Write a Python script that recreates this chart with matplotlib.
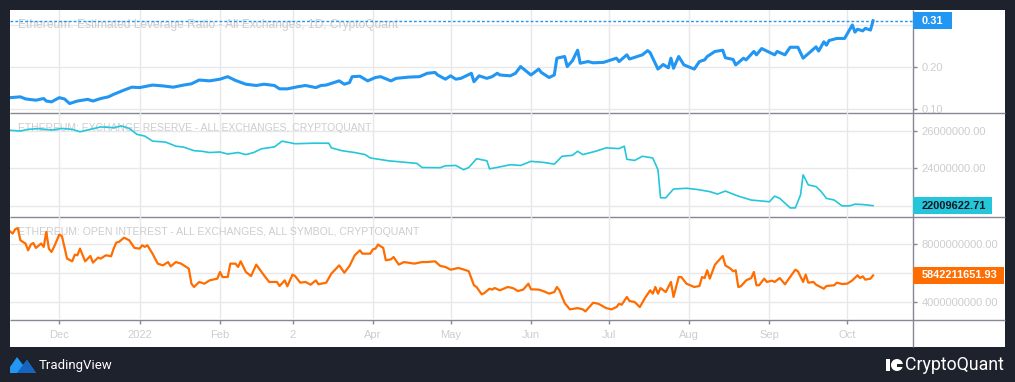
import numpy as np
import pandas as pd
import matplotlib
matplotlib.use("Agg")
import matplotlib.pyplot as plt
import matplotlib.transforms as mtransforms
from matplotlib.patches import Rectangle, Polygon, Ellipse

plt.rcParams['font.family'] = ['Liberation Sans', 'DejaVu Sans']

# ---------------- data ----------------
START = "2021-11-12"

lev_days = [0, 4, 6, 10, 13, 14, 16, 19, 21, 23, 26, 30, 32, 35, 38, 40, 44, 47, 50, 55,
            59, 63, 67, 70, 73, 77, 81, 84, 87, 91, 95, 98, 102, 104, 107, 111, 114, 118, 120, 122,
            124, 127, 129, 131, 132, 135, 138, 141, 143, 147, 149, 154, 158, 161, 164, 165, 168, 170, 172,
            174, 178, 179, 181, 184, 186, 188, 189, 193, 195, 197, 201, 204, 205, 208, 210, 211, 214, 215, 217,
            219, 220, 223, 225, 229, 234, 235, 238, 239, 242, 244, 246, 247, 250, 252, 254, 255, 256, 258, 260,
            264, 266, 268, 269, 272, 275, 276, 279, 280, 283, 284, 287, 288, 290, 295, 296, 299, 301, 304, 306,
            311, 312, 314, 315, 316, 319, 322, 325, 326, 327, 329, 330, 332, 333]
lev_vals = [0.127, 0.129, 0.124, 0.121, 0.125, 0.119, 0.117, 0.127, 0.124, 0.113,
            0.119, 0.123, 0.119, 0.125, 0.129, 0.135, 0.145, 0.152, 0.151, 0.157,
            0.155, 0.152, 0.157, 0.160, 0.169, 0.167, 0.171, 0.177, 0.168, 0.159,
            0.156, 0.159, 0.156, 0.148, 0.148, 0.153, 0.156, 0.151, 0.156, 0.157,
            0.161, 0.167, 0.159, 0.163, 0.177, 0.178, 0.167, 0.175, 0.177, 0.167,
            0.173, 0.176, 0.177, 0.185, 0.187, 0.181, 0.171, 0.179, 0.171,
            0.173, 0.185, 0.165, 0.179, 0.173, 0.177, 0.185, 0.181, 0.179, 0.185,
            0.201, 0.181, 0.195, 0.187, 0.175, 0.181, 0.221, 0.225, 0.201, 0.215,
            0.240, 0.209, 0.213, 0.210, 0.211, 0.221, 0.213, 0.229, 0.219, 0.225,
            0.229, 0.239, 0.234, 0.195, 0.206, 0.198, 0.221, 0.197, 0.225, 0.205,
            0.195, 0.213, 0.217, 0.225, 0.237, 0.240, 0.222, 0.218, 0.205, 0.221,
            0.217, 0.237, 0.229, 0.244, 0.229, 0.237, 0.229, 0.247, 0.247, 0.221,
            0.248, 0.238, 0.260, 0.252, 0.263, 0.268, 0.268, 0.300, 0.283, 0.290,
            0.286, 0.292, 0.288, 0.31]

res_days = [0, 4, 7, 11, 16, 20, 24, 27, 31, 35, 40, 43, 46, 49, 52, 55, 60, 64, 67, 71,
            74, 77, 81, 84, 88, 91, 94, 97, 102, 105, 110, 117, 123, 124, 128, 133, 137, 139, 146, 153,
            157, 159, 166, 168, 172, 175, 177, 180, 184, 185, 190, 193, 197, 201, 206, 210, 213, 217, 219, 221,
            226, 230, 235, 237, 238, 241, 244, 248, 250, 251, 253, 256, 261, 265, 270, 273, 276, 281, 286, 293,
            295, 297, 301, 303, 305, 306, 308, 311, 313, 315, 318, 321, 324, 326, 329, 333]
res_vals_m = [26.04, 26.0, 26.09, 26.13, 26.05, 26.14, 26.09, 25.96, 26.09, 26.22,
              26.18, 26.27, 26.14, 25.82, 25.73, 25.46, 25.41, 25.19, 25.14, 24.95,
              24.92, 24.85, 24.88, 24.77, 24.85, 24.74, 24.85, 25.05, 25.15, 25.46,
              25.32, 25.35, 25.35, 25.10, 24.95, 24.85, 24.74, 24.56, 24.41, 24.32,
              24.27, 24.05, 24.04, 24.14, 24.16, 23.93, 24.05, 24.52, 24.41, 23.98,
              24.11, 24.20, 24.16, 24.38, 24.32, 24.23, 24.65, 24.70, 24.92, 24.74,
              24.92, 25.10, 25.06, 25.19, 24.49, 24.43, 24.65, 24.56, 23.93, 22.43,
              22.43, 22.90, 22.94, 22.88, 22.76, 22.63, 22.79, 22.52, 22.31, 22.22,
              22.52, 22.40, 21.89, 21.89, 22.58, 23.66, 23.12, 23.03, 22.76, 22.40,
              22.31, 22.0, 22.0, 22.09, 22.07, 22.00962271]

oi_days = [0, 1, 2, 3, 4, 6, 7, 8, 9, 10, 12, 13, 14, 15, 16, 17, 19, 20, 21, 22,
           24, 25, 26, 27, 29, 31, 32, 34, 35, 37, 39, 40, 41, 42, 44, 46, 48, 50, 51, 52,
           53, 55, 57, 59, 61, 62, 64, 66, 69, 70, 71, 73, 75, 77, 80, 81, 82, 84, 85, 87,
           88, 89, 91, 93, 95, 98, 100, 103, 104, 106, 107, 109, 110, 112, 114, 116, 118, 119, 122, 124,
           127, 129, 131, 133, 135, 136, 139, 140, 141, 142, 144, 145, 147, 148, 150, 152, 156, 159, 161, 164,
           166, 168, 170, 173, 176, 177, 179, 180, 182, 183, 185, 186, 187, 189, 192, 194, 196, 198, 200, 201,
           204, 206, 208, 210, 211, 212, 214, 216, 219, 221, 222, 225, 227, 230, 232, 234, 235, 236, 238, 239,
           241, 243, 245, 247, 248, 249, 250, 251, 253, 255, 256, 258, 259, 261, 264, 266, 267, 268, 269, 270,
           272, 275, 276, 278, 279, 280, 281, 282, 284, 286, 287, 288, 289, 291, 292, 294, 295, 297, 299, 301,
           303, 304, 306, 307, 308, 310, 311, 314, 315, 318, 319, 321, 323, 325, 327, 328, 329, 330, 332, 333]
oi_vals_b = [8.90, 8.74, 9.04, 9.13, 8.28, 8.05, 7.58, 7.98, 8.09, 7.75, 8.05, 7.82, 8.86, 7.70, 7.47, 7.82, 8.67, 8.58, 7.82, 7.01,
             6.82, 7.28, 7.24, 7.70, 6.82, 7.19, 6.73, 7.08, 7.01, 7.24, 7.17, 7.70, 8.12, 8.16, 8.46, 8.28, 7.75, 7.70, 7.93, 7.82,
             7.93, 7.35, 6.66, 6.54, 6.77, 6.47, 6.77, 6.66, 6.31, 5.27, 5.04, 5.39, 5.27, 5.50, 5.62, 6.08, 5.73, 5.73, 6.66, 6.66,
             6.43, 6.82, 6.08, 5.80, 6.59, 5.85, 5.39, 5.39, 5.11, 5.50, 5.09, 5.90, 5.80, 5.34, 5.39, 5.20, 5.50, 5.23, 5.34, 5.97,
             6.54, 6.03, 6.50, 7.24, 7.58, 7.35, 7.35, 7.65, 7.70, 7.98, 7.75, 6.89, 6.96, 7.12, 6.59, 6.77, 6.66, 6.77, 6.77, 6.82,
             6.50, 6.43, 6.24, 6.36, 6.20, 6.13, 5.16, 5.04, 4.53, 4.62, 4.92, 4.86, 4.97, 4.81, 5.04, 4.97, 4.76, 4.86, 5.27, 4.88,
             4.86, 4.74, 4.58, 4.69, 5.04, 4.81, 3.93, 3.49, 3.58, 3.49, 3.35, 3.95, 3.88, 3.58, 3.49, 3.65, 3.88, 3.81, 4.35, 4.07,
             4.00, 3.65, 4.28, 4.81, 4.58, 5.04, 4.58, 4.97, 4.69, 5.39, 4.35, 5.73, 5.73, 5.27, 5.04, 5.11, 5.73, 5.66, 6.20, 5.62,
             6.59, 7.19, 6.54, 6.31, 6.13, 6.20, 5.04, 5.09, 5.50, 5.66, 6.08, 5.16, 5.16, 5.62, 5.39, 5.48, 5.39, 5.66, 5.23, 5.73,
             6.24, 6.13, 5.39, 5.90, 5.34, 5.39, 5.20, 4.92, 5.11, 5.16, 5.34, 5.25, 5.27, 5.50, 5.85, 5.66, 5.78, 5.55, 5.62, 5.84221165193]

month_ticks = ["2021-12-01", "2022-01-01", "2022-02-01", "2022-03-01", "2022-04-01", "2022-05-01",
               "2022-06-01", "2022-07-01", "2022-08-01", "2022-09-01", "2022-10-01"]
month_labels = ["Dec", "2022", "Feb", "2", "Apr", "May", "Jun", "Jul", "Aug", "Sep", "Oct"]

titles = ["Ethereum: Estimated Leverage Ratio - All Exchanges, 1D, CryptoQuant",
          "ETHEREUM: EXCHANGE RESERVE - ALL EXCHANGES, CRYPTOQUANT",
          "ETHEREUM: OPEN INTEREST - ALL EXCHANGES, ALL SYMBOL, CRYPTOQUANT"]

lev_ticks = [0.10, 0.20, 0.30]
lev_ticklabels = ["0.10", "0.20", ""]
res_ticks = [22e6, 24e6, 26e6]
res_ticklabels = ["", "24000000.00", "26000000.00"]
oi_ticks = [4e9, 6e9, 8e9]
oi_ticklabels = ["4000000000.00", "", "8000000000.00"]

# ---------------- style ----------------
W, H, DPI = 1015, 382, 100
DARK = "#1e222d"
SEP = "#868993"
GRID = "#e8e8ea"
TXT = "#cdcdd0"
BLUE = "#2196f3"
CYAN = "#26c6da"
ORANGE = "#ff6d00"

start = pd.Timestamp(START)
def to_dates(days):
    return start + pd.to_timedelta(np.asarray(days, dtype=float), unit="D")

lev = np.array(lev_vals)
res = np.array(res_vals_m) * 1e6
oi = np.array(oi_vals_b) * 1e9

fig = plt.figure(figsize=(W / DPI, H / DPI), dpi=DPI, facecolor=DARK)

# background / frame in pixel coordinates
bg = fig.add_axes([0, 0, 1, 1], zorder=0)
bg.set_xlim(0, W)
bg.set_ylim(H, 0)
bg.axis("off")
bg.add_patch(Rectangle((10, 10), 995, 337, fc="white", ec="none"))
for yy in (113, 217, 320):
    bg.plot([10, 1005], [yy, yy], color=SEP, lw=1.0, solid_capstyle="butt")
bg.plot([913, 913], [10, 347], color=SEP, lw=1.0, solid_capstyle="butt")

def fx(p):
    return p / W
def fy(p):
    return 1 - p / H
def rect(top, bottom):
    return [fx(10), fy(bottom), fx(913) - fx(10), fy(top) - fy(bottom)]

ax1 = fig.add_axes(rect(10, 113), zorder=1)
ax2 = fig.add_axes(rect(113, 217), zorder=1, sharex=ax1)
ax3 = fig.add_axes(rect(217, 320), zorder=1, sharex=ax1)
axes = [ax1, ax2, ax3]

ax1.plot(to_dates(lev_days), lev, color=BLUE, lw=2.2, zorder=3, solid_joinstyle="round")
ax1.axhline(lev[-1], color=BLUE, lw=1.0, ls=(0, (2, 1.5)), zorder=2)
ax2.plot(to_dates(res_days), res, color=CYAN, lw=1.2, zorder=3)
ax3.plot(to_dates(oi_days), oi, color=ORANGE, lw=1.6, zorder=3, solid_joinstyle="round")

ax1.set_ylim(0.0905, 0.3357)
ax2.set_ylim(21.404e6, 26.964e6)
ax3.set_ylim(2.753e9, 9.892e9)
ax1.set_xlim(start, start + pd.Timedelta(days=348.4))

for ax, tk, tl in zip(axes, [lev_ticks, res_ticks, oi_ticks],
                      [lev_ticklabels, res_ticklabels, oi_ticklabels]):
    ax.set_facecolor("none")
    for s in ax.spines.values():
        s.set_visible(False)
    ax.set_yticks(tk)
    ax.set_yticklabels(tl)
    ax.yaxis.set_ticks_position("right")
    ax.tick_params(axis="y", which="both", left=False, right=True, labelleft=False,
                   labelright=True, direction="out", length=3, width=1, color=SEP,
                   labelcolor=TXT, labelsize=8, pad=3)
    ax.grid(True, color=GRID, lw=1.0, zorder=0)
    ax.set_axisbelow(True)

ax3.set_xticks(pd.to_datetime(month_ticks))
ax3.set_xticklabels(month_labels)
ax3.tick_params(axis="x", direction="out", length=3, width=1, color=SEP,
                labelcolor=TXT, labelsize=8, pad=4)
for ax in (ax1, ax2):
    ax.tick_params(axis="x", bottom=False, labelbottom=False)

for ax, t, fs in zip(axes, titles, [8.65, 7.5, 7.6]):
    ax.text(8 / 903, 0.852, t, transform=ax.transAxes, ha="left", va="center",
            color=TXT, fontsize=fs, zorder=1)

def price_box(ax, val, text, fc, tc, width_px):
    base = mtransforms.blended_transform_factory(ax.transAxes, ax.transData)
    trans = fig.dpi_scale_trans + mtransforms.ScaledTranslation(1.0, val, base)
    r = Rectangle((0, -8.5 / DPI), width_px / DPI, 17 / DPI, transform=trans,
                  fc=fc, ec="none", clip_on=False, zorder=6)
    ax.add_artist(r)
    ax.text(9 / DPI, 0, text, transform=trans, ha="left", va="center", color=tc,
            fontsize=7.9, fontweight="bold", clip_on=False, zorder=7)

price_box(ax1, lev[-1], f"{lev[-1]:.2f}", BLUE, "white", 39)
price_box(ax2, res[-1], f"{res[-1]:.2f}", CYAN, "#131722", 79)
price_box(ax3, oi[-1], f"{oi[-1]:.2f}", ORANGE, "white", 91)

# footer branding
bg.add_patch(Polygon([(10, 373), (10, 367), (17, 357), (23, 365), (27, 360), (36, 373)],
                     closed=True, fc=BLUE, ec="none"))
bg.add_patch(Polygon([(17, 373), (23, 365), (27, 360), (36, 373)], closed=True, fc="#1565c0", ec="none"))
bg.text(39, 365, "TradingView", color="white", fontsize=9.5, ha="left", va="center",
        family=["Roboto", "DejaVu Sans"])
bg.add_patch(Rectangle((886, 359), 4, 12, fc="white", ec="none"))
bg.add_patch(Ellipse((897, 365), 12, 12, fc="white", ec="none"))
bg.add_patch(Rectangle((897, 364), 6, 3, fc=DARK, ec="none"))
bg.text(1004, 365, "CryptoQuant", color="white", fontsize=12.8, ha="right", va="center",
        family=["Roboto", "DejaVu Sans"])

fig.savefig("out.png", dpi=DPI, facecolor=DARK)
